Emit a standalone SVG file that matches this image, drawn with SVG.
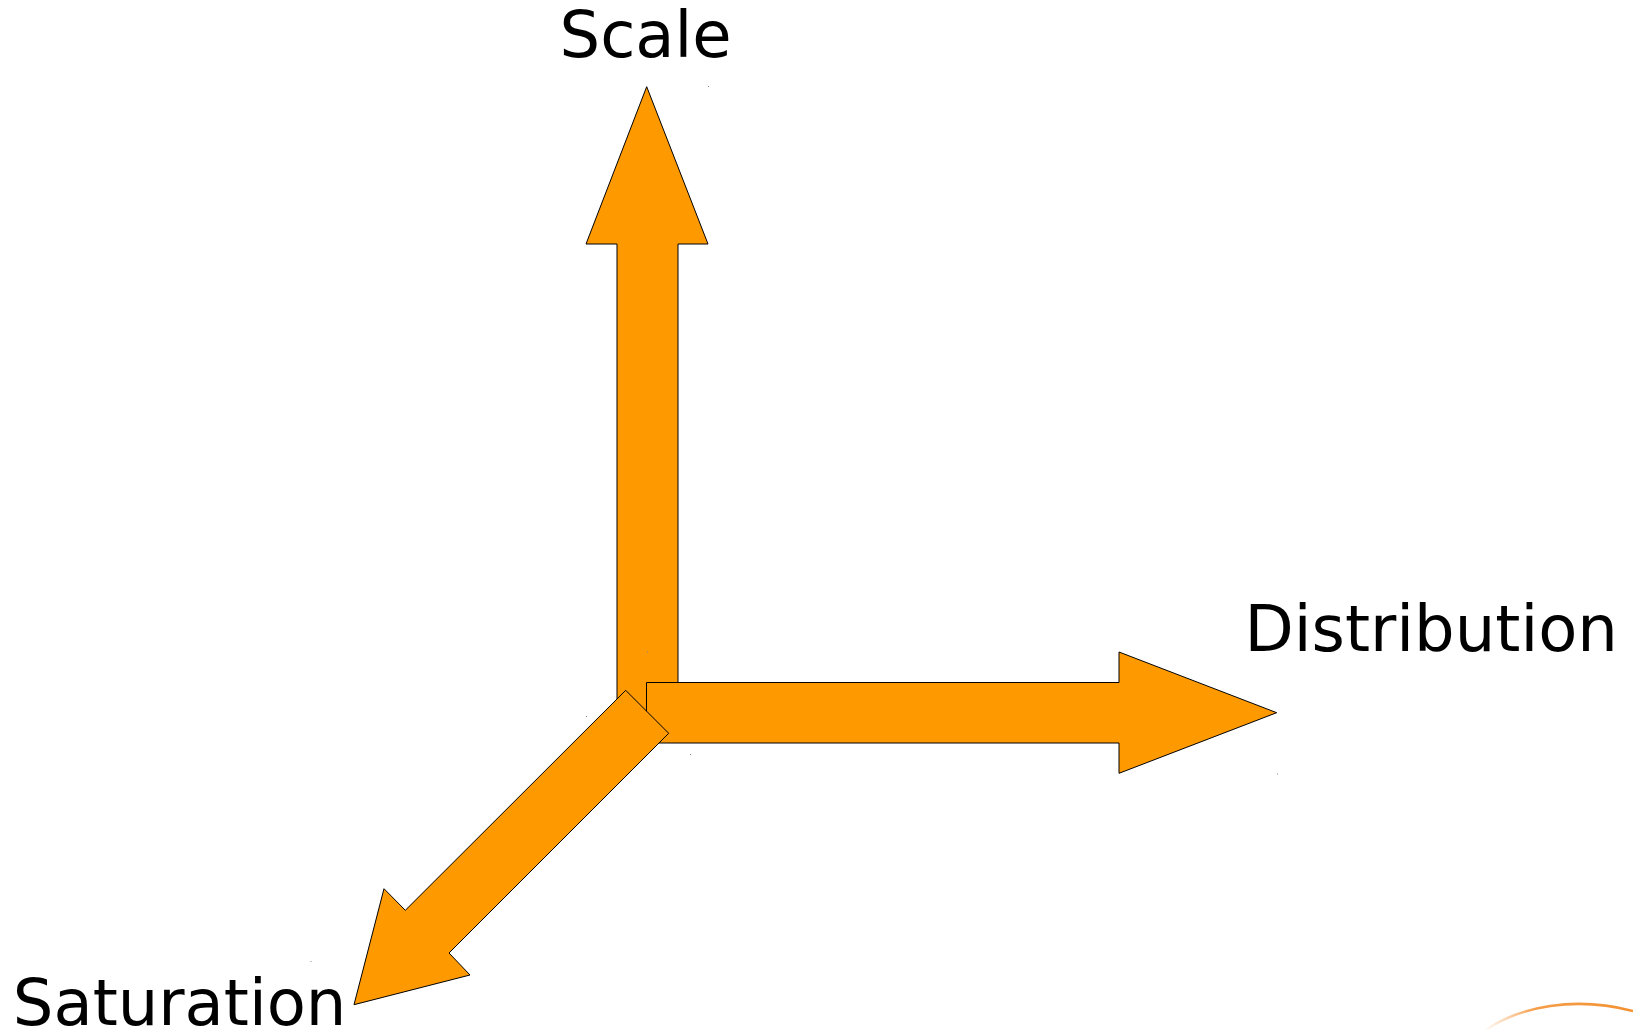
<svg xmlns="http://www.w3.org/2000/svg" width="1633" height="1030" viewBox="0 0 1633 1030">
  <defs>
    <style>
      .arrow { fill: #ff9900; stroke: #000000; stroke-width: 1; stroke-linejoin: miter; }
      .label { font-family: "DejaVu Sans", "Liberation Sans", sans-serif; font-size: 64px; fill: #000000; }
      .dot { fill: #888888; }
    </style>
    <linearGradient id="arcGrad" x1="1484" y1="0" x2="1633" y2="0" gradientUnits="userSpaceOnUse">
      <stop offset="0" stop-color="#f39233" stop-opacity="0"/>
      <stop offset="0.35" stop-color="#f39233" stop-opacity="0.9"/>
      <stop offset="1" stop-color="#f39233" stop-opacity="1"/>
    </linearGradient>
  </defs>
  <rect width="1633" height="1030" fill="#ffffff"/>

  <g id="connectors">
    <g id="arrow-scale">
      <polygon class="arrow" points="646.7,86.7 708,244 678,244 678,712 617,712 617,244 586,244"/>
    </g>
    <g id="arrow-distribution">
      <polygon class="arrow" points="646.5,682.5 1119,682.5 1119,652 1276.7,712.7 1119,773.3 1119,743 646.5,743"/>
    </g>
    <g id="arrow-saturation">
      <polygon class="arrow" points="625.7,690.3 668.7,733.3 449,953 470,975 354,1004.7 384,888.7 405.3,910.3"/>
    </g>
  </g>

  <g id="node-scale">
    <text class="label" x="559.5" y="57">Scale</text>
  </g>
  <g id="node-distribution">
    <text class="label" x="1244.5" y="650.5">Distribution</text>
  </g>
  <g id="node-saturation">
    <text class="label" x="12.8" y="1025">Saturation</text>
  </g>

  <g id="marks">
    <rect class="dot" x="708" y="86" width="1" height="1"/>
    <rect class="dot" x="647" y="651.5" width="1" height="1"/>
    <rect class="dot" x="586" y="716" width="1" height="1"/>
    <rect class="dot" x="690" y="754" width="1" height="1"/>
    <rect class="dot" x="1277" y="773.5" width="1" height="1"/>
    <rect class="dot" x="310.5" y="961" width="1" height="1"/>
  </g>

  <path d="M1484,1031 C1520,1006 1575,996 1633,1011" fill="none" stroke="url(#arcGrad)" stroke-width="2.6"/>
</svg>
